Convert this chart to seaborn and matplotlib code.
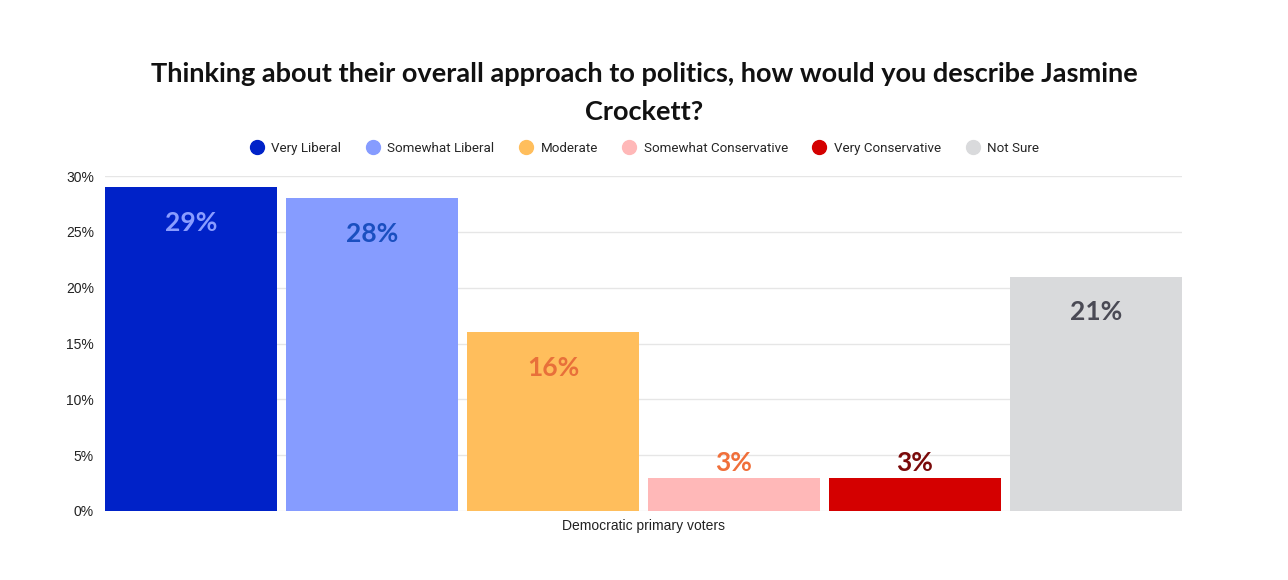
import matplotlib
matplotlib.use("Agg")
import matplotlib.pyplot as plt
from matplotlib.lines import Line2D
import seaborn as sns
import pandas as pd

categories = ["Very Liberal", "Somewhat Liberal", "Moderate",
              "Somewhat Conservative", "Very Conservative", "Not Sure"]
values = [29, 28, 16, 3, 3, 21]
group = "Democratic primary voters"
bar_colors = ["#0022c8", "#869cff", "#ffbe5c", "#ffb8b8", "#d40000", "#d9dadc"]
label_colors = ["#8a9cff", "#1a4fc0", "#e8703a", "#f06f3a", "#7a0a0a", "#4a4a55"]
yticks = [0, 5, 10, 15, 20, 25, 30]
ytick_labels = ["0%", "5%", "10%", "15%", "20%", "25%", "30%"]
title = "Thinking about their overall approach to politics, how would you describe Jasmine\nCrockett?"

df = pd.DataFrame({"group": [group] * len(categories),
                   "category": categories, "value": values})

sns.set_theme(style="white")
plt.rcParams['font.family'] = ['Liberation Sans', 'DejaVu Sans']

fig = plt.figure(figsize=(12.88, 5.8), dpi=100)
ax = fig.add_axes([105 / 1288, 1 - 511 / 580, (1182 - 105) / 1288, (511 - 176) / 580])

sns.barplot(data=df, x="group", y="value", hue="category", hue_order=categories,
            palette=bar_colors, width=1.0, gap=0.05, saturation=1, ax=ax,
            legend=False, linewidth=0, errorbar=None)

rects = [r for c in ax.containers for r in c]
x0 = min(r.get_x() for r in rects)
x1 = max(r.get_x() + r.get_width() for r in rects)
ax.set_xlim(x0, x1)
ax.set_ylim(0, 30)
ax.set_yticks(yticks)
ax.set_yticklabels(ytick_labels, fontsize=10, color="#222222")
ax.yaxis.grid(True, color="#e6e6e6", linewidth=1)
ax.set_axisbelow(True)
for s in ax.spines.values():
    s.set_visible(False)
ax.tick_params(axis="y", length=0, pad=8)
ax.tick_params(axis="x", length=0, pad=6)
ax.set_xticks([0])
ax.set_xticklabels([group], fontsize=10, color="#222222")
ax.set_xlabel("")
ax.set_ylabel("")

# value labels
for cont, v, lc in zip(ax.containers, values, label_colors):
    for rect in cont:
        cx = rect.get_x() + rect.get_width() / 2
        h = rect.get_height()
        if h > 6:
            ax.annotate(f"{v}%", (cx, h), xytext=(0, -17), textcoords="offset points",
                        ha="center", va="top", fontsize=19, color=lc,
                        family=["Lato", "DejaVu Sans"], fontweight="bold")
        else:
            ax.annotate(f"{v}%", (cx, h), xytext=(0, 1.5), textcoords="offset points",
                        ha="center", va="bottom", fontsize=19, color=lc,
                        family=["Lato", "DejaVu Sans"], fontweight="bold")

handles = [Line2D([0], [0], marker="o", linestyle="", markersize=10,
                  markerfacecolor=c, markeredgecolor=c) for c in bar_colors]
fig.legend(handles, categories, loc="center", bbox_to_anchor=(0.5, 1 - 148 / 580),
           ncol=6, frameon=False, handletextpad=0.5, columnspacing=1.75,
           handlelength=1.2, prop={"family": ["Roboto", "DejaVu Sans"], "size": 9.6})

fig.text(0.5, 1 - 93 / 580, title, ha="center", va="center", fontsize=19.5,
         fontweight="bold", family=["Lato", "DejaVu Sans"], linespacing=1.68,
         color="#111111")

fig.savefig("out.png", dpi=100, facecolor="white")
